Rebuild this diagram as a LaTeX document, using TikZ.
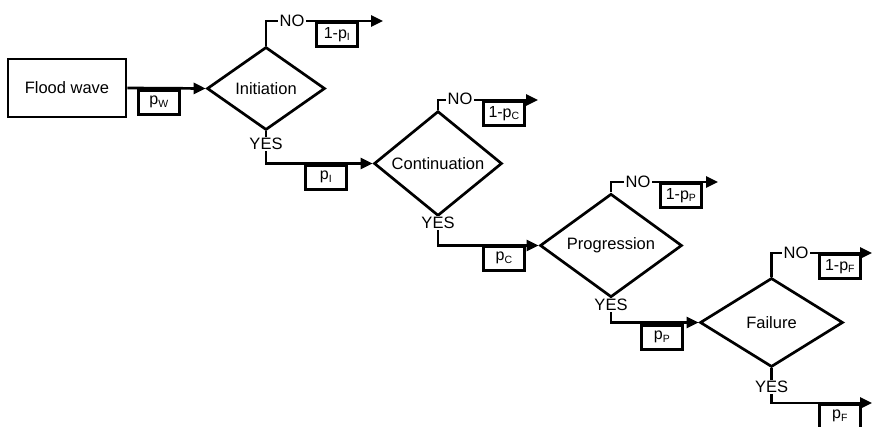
\documentclass[tikz,border=0pt]{standalone}
\usepackage{fontspec}
\setmainfont{Liberation Sans}
\usetikzlibrary{shapes.geometric,arrows.meta}
\newcommand\psub[1]{\raisebox{-0.3ex}{\fontsize{10.5}{11}\selectfont #1}}
\begin{document}
\begin{tikzpicture}[x=1pt,y=-1pt,
  line width=2.7pt,
  flow/.style={-{Triangle[length=12pt,width=11pt]}},
  dia/.style={draw,diamond,inner sep=0pt,font=\fontsize{16.5}{19}\selectfont},
  startbox/.style={draw,rectangle,minimum width=118pt,minimum height=58pt,inner sep=0pt,font=\fontsize{16.5}{19}\selectfont},
  prob/.style={draw,anchor=north west,minimum width=41pt,minimum height=24pt,inner sep=0pt,font=\fontsize{16}{18}\selectfont},
  lab/.style={fill=white,inner sep=1.5pt,font=\fontsize{16.5}{19}\selectfont},
]
\useasboundingbox (0,0) rectangle (873,427);

% main nodes
\node[startbox] (fw) at (67,88) {Flood wave};
\node[dia,minimum width=118pt,minimum height=83pt] (init) at (266,88.5) {Initiation};
\node[dia,minimum width=128pt,minimum height=77pt] (cont) at (438,163.5) {Continuation};
\node[dia,minimum width=142pt,minimum height=89pt] (prog) at (611,245.5) {Progression};
\node[dia,minimum width=143pt,minimum height=89pt] (fail) at (771.5,322.5) {Failure};

% free ends
\coordinate (noI) at (383,21);
\coordinate (noC) at (538,100);
\coordinate (noP) at (718,182);
\coordinate (noF) at (872,253);
\coordinate (yesF) at (872,403);

% connectors
\draw[flow] (fw.east) -- (init.west);
\draw[flow] (init.south) |- (cont.west);
\draw[flow] (cont.south) |- (prog.west);
\draw[flow] (prog.south) |- (fail.west);
\draw[flow] (fail.south) |- (yesF);
\draw[flow] (init.north) |- (noI);
\draw[flow] (cont.north) |- (noC);
\draw[flow] (prog.north) |- (noP);
\draw[flow] (fail.north) |- (noF);

% YES / NO labels
\node[lab] (yI) at (266,144) {YES};
\node[lab] (yC) at (438,223) {YES};
\node[lab] (yP) at (611,305) {YES};
\node[lab] (yF) at (771.5,387) {YES};
\node[lab] (nI) at (292,21) {NO};
\node[lab] (nC) at (460,99) {NO};
\node[lab] (nP) at (638,182) {NO};
\node[lab] (nF) at (796,253) {NO};

% probability boxes
\node[prob] (pW) at (137,89) {p\psub{W}};
\node[prob] (pI) at (304,164) {p\psub{I}};
\node[prob] (pC) at (482,245) {p\psub{C}};
\node[prob] (pP) at (640,324) {p\psub{P}};
\node[prob] (pF) at (818,403) {p\psub{F}};
\node[prob] (qI) at (315,21) {1-p\psub{I}};
\node[prob] (qC) at (482,100) {1-p\psub{C}};
\node[prob] (qP) at (659,182) {1-p\psub{P}};
\node[prob] (qF) at (818,253) {1-p\psub{F}};
\end{tikzpicture}
\end{document}
